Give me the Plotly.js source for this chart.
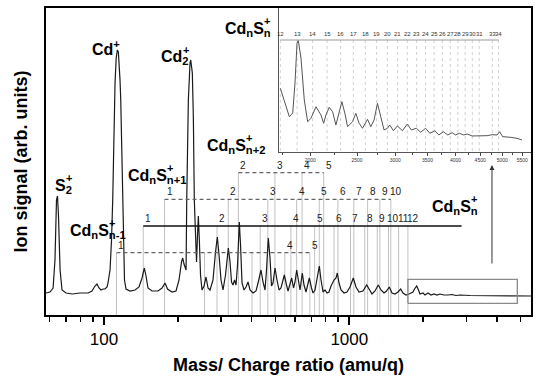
<!DOCTYPE html>
<html><head><meta charset="utf-8">
<script src="https://cdn.plot.ly/plotly-3.0.1.min.js"></script>
<style>html,body{margin:0;padding:0;background:#fff}#chart{width:543px;height:382px}</style>
</head><body><div id="chart"></div>
<script>
// ---- main spectrum (m/z, signal in arb. units) ----
const specMz = [
 58.0, 60.2, 62.0, 63.1, 64.0, 64.6, 65.2, 66.2, 67.4, 70.0,
 74.1, 79.8, 86.1, 89.3, 91.9, 93.6, 95.4, 97.2, 99.1, 100.9,
 102.9, 103.8, 105.8, 107.3, 108.5, 109.8, 110.9, 112.1, 113.3, 114.4,
 115.1, 116.2, 117.0, 118.1, 119.2, 120.1, 121.2, 122.9, 127.6, 133.8,
 138.9, 142.9, 146.0, 148.3, 151.1, 156.9, 166.0, 172.4, 177.3, 181.5,
 189.3, 196.6, 202.2, 207.0, 209.4, 211.9, 216.0, 217.4, 220.7, 224.2,
 225.7, 229.1, 231.3, 233.4, 236.1, 238.3, 240.6, 242.4, 244.7, 247.4,
 250.9, 255.7, 260.5, 265.5, 270.5, 278.2, 284.8, 289.7, 294.4, 299.9,
 305.6, 312.9, 321.2, 326.4, 331.0, 335.7, 340.5, 345.3, 350.2, 356.1,
 360.2, 365.3, 372.2, 379.2, 386.4, 393.8, 405.0, 416.6, 424.5, 436.6,
 444.9, 453.3, 459.7, 467.5, 475.1, 481.8, 488.6, 497.9, 507.3, 516.9,
 526.7, 543.3, 554.7, 562.5, 573.2, 582.4, 592.3, 600.7, 610.4, 620.8,
 629.6, 643.3, 653.7, 666.1, 687.1, 701.4, 711.3, 724.8, 738.6, 754.7,
 766.9, 781.4, 796.2, 811.3, 826.7, 842.3, 866.4, 882.8, 893.7, 908.1,
 925.3, 951.7, 978.7, 1006.6, 1038.3, 1064.9, 1095.4, 1137.2, 1177.4, 1208.7,
 1237.4, 1272.7, 1312.8, 1346.5, 1385.0, 1417.9, 1455.6, 1493.0, 1535.7, 1579.6,
 1620.1, 1655.5, 1702.8, 1751.4, 1784.6, 1818.4, 1844.2, 1882.7, 1914.8, 1942.0,
 1997.5, 2035.4, 2093.5, 2153.4, 2214.9, 2278.2, 2343.3, 2432.8, 2525.9, 2622.7,
 2722.6, 2827.0, 3106, 3412, 3927, 4520, 4966, 5506
];
const specSig = [
 22, 23, 27, 55, 115, 119, 100, 45, 25, 22,
 21, 22, 22, 24, 29, 31, 27, 25, 26, 26,
 28, 32, 45, 75, 115, 185, 232, 257, 265, 263,
 255, 235, 215, 165, 115, 65, 35, 26, 24, 25,
 28, 37, 47, 39, 27, 24, 24, 27, 32, 26,
 23, 24, 35, 53, 57, 51, 45, 115, 215, 252,
 255, 242, 198, 115, 75, 53, 80, 99, 75, 40,
 25, 29, 38, 27, 25, 35, 63, 78, 60, 35,
 25, 40, 67, 53, 33, 30, 35, 30, 50, 93,
 70, 32, 25, 28, 33, 25, 22, 24, 32, 45,
 33, 25, 45, 77, 57, 29, 32, 47, 35, 25,
 27, 40, 30, 24, 31, 37, 27, 33, 45, 33,
 25, 42, 30, 23, 37, 27, 22, 25, 35, 49,
 35, 23, 25, 22, 23, 29, 35, 37, 42, 32,
 25, 22, 23, 28, 37, 28, 23, 24, 30, 25,
 21, 24, 30, 25, 22, 24, 28, 22, 21, 23,
 26, 22, 20, 21, 22, 23, 26, 29, 25, 21,
 22, 20, 22, 20, 21, 20, 21, 20, 20, 20.5,
 19.5, 20, 19.5, 19.5, 19, 19, 19, 19
];

// ---- inset spectrum ----
const insetMz = [
 1733.8, 1767.1, 1809.6, 1839.2, 1859.5, 1877.2, 1888.9, 1913.3, 1928.8, 1943.6,
 1975.3, 2006.6, 2055.0, 2104.5, 2131.7, 2155.1, 2189.2, 2224.9, 2260.1, 2295.9,
 2325.6, 2359.0, 2389.5, 2447.0, 2485.7, 2525.0, 2566.3, 2628.1, 2669.7, 2711.9,
 2756.1, 2799.8, 2844.1, 2890.4, 2922.2, 2974.2, 3031.3, 3104.3, 3178.9, 3240.0,
 3318.0, 3386.5, 3467.9, 3539.7, 3624.9, 3694.5, 3772.6, 3856.1, 3937.6, 4000,
 4076.6, 4160.9, 4228.8, 4330.6, 4483.6, 4650.9, 4762.8, 4877.5, 4938.3, 5008.1,
 5194.9, 5363.2, 5492.3
];
const insetSig = [
 63.7, 52, 35.3, 39, 69, 108.7, 111.3, 94, 75.3, 52,
 30.3, 33.7, 45.3, 37, 28.7, 37, 44.7, 40.3, 27, 40.3,
 50.3, 38.7, 25.3, 30.3, 38.7, 28.7, 23.7, 32.7, 25.3, 32,
 48.7, 35.3, 22, 23.7, 27, 21.3, 26, 21.3, 28, 22,
 23.7, 19.7, 23.7, 18.7, 21.3, 17, 20.3, 17, 19.3, 17,
 18.7, 17, 18, 16, 16, 16.3, 17.3, 17, 20.3, 15.3,
 14.7, 13.7, 12
];

// ---- cluster mass markers ----
const nnMz = [144.5, 288.9, 433.4, 577.9, 722.4, 866.8, 1011.3, 1155.8, 1300.2, 1444.7, 1589.2, 1733.6];
const nnLabels = ['1','2','3','4','5','6','7','8','9','10','11','12'];
const nm1Mz = [112.4, 256.9, 401.3, 545.8, 690.3];
const nm1Labels = ['1','','','4','5'];
const np1Mz = [176.5, 321.0, 465.4, 609.9, 754.4, 898.8, 1043.3, 1187.8, 1332.2, 1476.7];
const np1Labels = ['1','2','3','4','5','6','7','8','9','10'];
const np2Mz = [353.0, 497.5, 641.9, 786.4];
const np2Labels = ['2','3','4','5'];
const insetMarkMz = [1733.6, 1878.1, 2022.6, 2167.1, 2311.5, 2456.0, 2600.5, 2744.9, 2889.4, 3033.9,
 3178.3, 3322.8, 3467.3, 3611.8, 3756.2, 3900.7, 4045.2, 4189.6, 4334.1, 4478.6, 4767.5, 4912.0];
const insetMarkLabels = ['12','13','14','15','16','17','18','19','20','21','22','23','24','25','26','27','28','29','30','31','33','34'];

// x-axis tick labels
const majorTicks = [100, 1000];
const majorTickText = ['100', '1000'];
const minorTicks = [60,70,80,90,200,300,400,500,600,700,800,900,2000,3000,4000,5000];
const insetTicks = [2000,2500,3000,3500,4000,4500,5000,5500];
const insetTickText = ['2000','2500','3000','3500','4000','4500','5000','5500'];
const insetMinor = [1750,2250,2750,3250,3750,4250,4750,5250];

const FONT = 'Liberation Sans, Arial, Helvetica, sans-serif';

const rows = [
  {mz: nnMz, labels: nnLabels, level: 89, dash: 'solid', color: '#111', width: 1.4, end: 2870},
  {mz: nm1Mz, labels: nm1Labels, level: 62.3, dash: '4px,3px', color: '#666', width: 1.3},
  {mz: np1Mz, labels: np1Labels, level: 115.7, dash: '4px,3px', color: '#666', width: 1.3},
  {mz: np2Mz, labels: np2Labels, level: 142.3, dash: '4px,3px', color: '#666', width: 1.3}
];

const traces = [];
const vx = [], vy = [];
rows.forEach(r => r.mz.forEach(m => { vx.push(m, m, null); vy.push(r.level, 0, null); }));
traces.push({x: vx, y: vy, mode: 'lines', line: {color: '#c2c2c2', width: 1}, xaxis: 'x', yaxis: 'y', hoverinfo: 'skip'});
traces.push({x: specMz, y: specSig, mode: 'lines', line: {color: '#1a1a1a', width: 1.2}, xaxis: 'x', yaxis: 'y'});
rows.forEach(r => {
  const xEnd = r.end || r.mz[r.mz.length - 1];
  traces.push({x: [r.mz[0], xEnd], y: [r.level, r.level], mode: 'lines',
    line: {color: r.color, width: r.width, dash: r.dash}, xaxis: 'x', yaxis: 'y', hoverinfo: 'skip'});
});
const bx0 = insetMz[0], bx1 = 4842, by0 = 11.7, by1 = 35.7;
traces.push({x: [bx0, bx1, bx1, bx0, bx0], y: [by0, by0, by1, by1, by0], mode: 'lines',
  line: {color: '#8a8a8a', width: 1.3}, xaxis: 'x', yaxis: 'y', hoverinfo: 'skip'});
const ivx = [], ivy = [];
insetMarkMz.forEach(m => { ivx.push(m, m, null); ivy.push(112, 0, null); });
traces.push({x: ivx, y: ivy, mode: 'lines', line: {color: '#c4c4c4', width: 0.8, dash: 'dot'}, xaxis: 'x2', yaxis: 'y2', hoverinfo: 'skip'});
traces.push({x: [insetMarkMz[0], insetMarkMz[insetMarkMz.length - 1]], y: [112, 112], mode: 'lines',
  line: {color: '#9a9a9a', width: 1}, xaxis: 'x2', yaxis: 'y2', hoverinfo: 'skip'});
traces.push({x: insetMz, y: insetSig, mode: 'lines', line: {color: '#555', width: 1}, xaxis: 'x2', yaxis: 'y2'});

const annotations = [];
rows.forEach(r => r.mz.forEach((m, i) => {
  if (!r.labels[i]) return;
  annotations.push({xref: 'x', yref: 'y', x: Math.log10(m), y: r.level, text: r.labels[i], showarrow: false,
    xanchor: 'center', yanchor: 'middle', xshift: 5, yshift: 7.5, font: {family: FONT, size: 10, color: '#222'}});
}));
insetMarkMz.forEach((m, i) => {
  annotations.push({xref: 'x2', yref: 'y2', x: Math.log10(m), y: 112, text: insetMarkLabels[i], showarrow: false,
    xanchor: 'center', yanchor: 'bottom', yshift: 1, font: {family: FONT, size: 6, color: '#333'}});
});
const PX = px => (px - 46) / 485, PY = py => (315 - py) / 307;
// bold label; "+" charge drawn stacked above the subscript like the reference
function stack(html, left, mid, plusAt) {
  annotations.push({xref: 'paper', yref: 'paper', x: PX(left), y: PY(mid), text: '<b>' + html + '</b>',
    showarrow: false, xanchor: 'left', yanchor: 'middle', font: {family: FONT, size: 16, color: '#000'}});
  if (plusAt !== null) {
    annotations.push({xref: 'paper', yref: 'paper', x: PX(left + plusAt), y: PY(mid - 8), text: '<b>+</b>',
      showarrow: false, xanchor: 'left', yanchor: 'middle', font: {family: FONT, size: 11, color: '#000'}});
  }
}
stack('S<sub>2</sub>', 53, 186, 10.5);
stack('Cd<sup>+</sup>', 90, 48, null);
stack('Cd<sub>2</sub>', 159, 58, 21.5);
stack('Cd<sub>n</sub>S<sub>n+2</sub>', 205, 146, 38.5);
stack('Cd<sub>n</sub>S<sub>n+1</sub>', 126, 176, 38.5);
stack('Cd<sub>n</sub>S<sub>n-1</sub>', 68, 231, 38.5);
stack('Cd<sub>n</sub>S<sub>n</sub>', 430, 207, 38.5);
stack('Cd<sub>n</sub>S<sub>n</sub>', 223, 29, 38.5);
// y-axis title
annotations.push({xref: 'paper', yref: 'paper', x: PX(20), y: 0.5, text: '<b>Ion signal (arb. units)</b>', textangle: -90,
  showarrow: false, xanchor: 'center', yanchor: 'middle', font: {family: FONT, size: 18, color: '#000'}});
// arrow from zoom box up to inset
annotations.push({xref: 'x', yref: 'y', x: Math.log10(3817), y: 150, ax: 0, ay: 100, text: '', showarrow: true,
  arrowhead: 2, arrowsize: 1, arrowwidth: 1, arrowcolor: '#333'});

const layout = {
  width: 543, height: 382,
  margin: {l: 46, r: 12, t: 8, b: 67},
  paper_bgcolor: '#fff', plot_bgcolor: '#fff',
  showlegend: false, hovermode: false,
  font: {family: FONT, color: '#000'},
  xaxis: {
    type: 'log', range: [Math.log10(58.0), Math.log10(5506)], domain: [0, 1],
    tickmode: 'array', tickvals: majorTicks, ticktext: majorTickText,
    ticks: 'outside', ticklen: 8, tickwidth: 2, tickcolor: '#000',
    tickfont: {family: FONT, size: 17, color: '#000'},
    minor: {tickmode: 'array', tickvals: minorTicks, ticks: 'outside', ticklen: 5, tickwidth: 1.5, tickcolor: '#000', showgrid: false},
    showgrid: false, zeroline: false, showline: true, linewidth: 2, linecolor: '#000', mirror: true,
    title: {text: 'Mass/ Charge ratio (amu/q)', font: {family: FONT, size: 18, weight: 700, color: '#000'}, standoff: 10}
  },
  yaxis: {
    range: [0, 307], domain: [0, 1], showticklabels: false, ticks: '',
    showgrid: false, zeroline: false, showline: true, linewidth: 2, linecolor: '#000', mirror: true
  },
  xaxis2: {
    type: 'log', range: [Math.log10(1725), Math.log10(5735)], domain: [0.481, 1], anchor: 'y2',
    tickmode: 'array', tickvals: insetTicks, ticktext: insetTickText,
    ticks: 'outside', ticklen: 3, tickwidth: 1, tickcolor: '#444',
    tickfont: {family: FONT, size: 5, color: '#333'},
    minor: {tickmode: 'array', tickvals: insetMinor, ticks: 'outside', ticklen: 2, tickwidth: 1, tickcolor: '#444', showgrid: false},
    showgrid: false, zeroline: false, showline: true, linewidth: 1.3, linecolor: '#555'
  },
  yaxis2: {
    range: [0, 144], domain: [0.531, 1], anchor: 'x2',
    showticklabels: false, ticks: '', showgrid: false, zeroline: false,
    showline: true, linewidth: 1.3, linecolor: '#555'
  },
  annotations: annotations
};

Plotly.newPlot('chart', traces, layout, {displayModeBar: false, staticPlot: true});
</script>
</body></html>
